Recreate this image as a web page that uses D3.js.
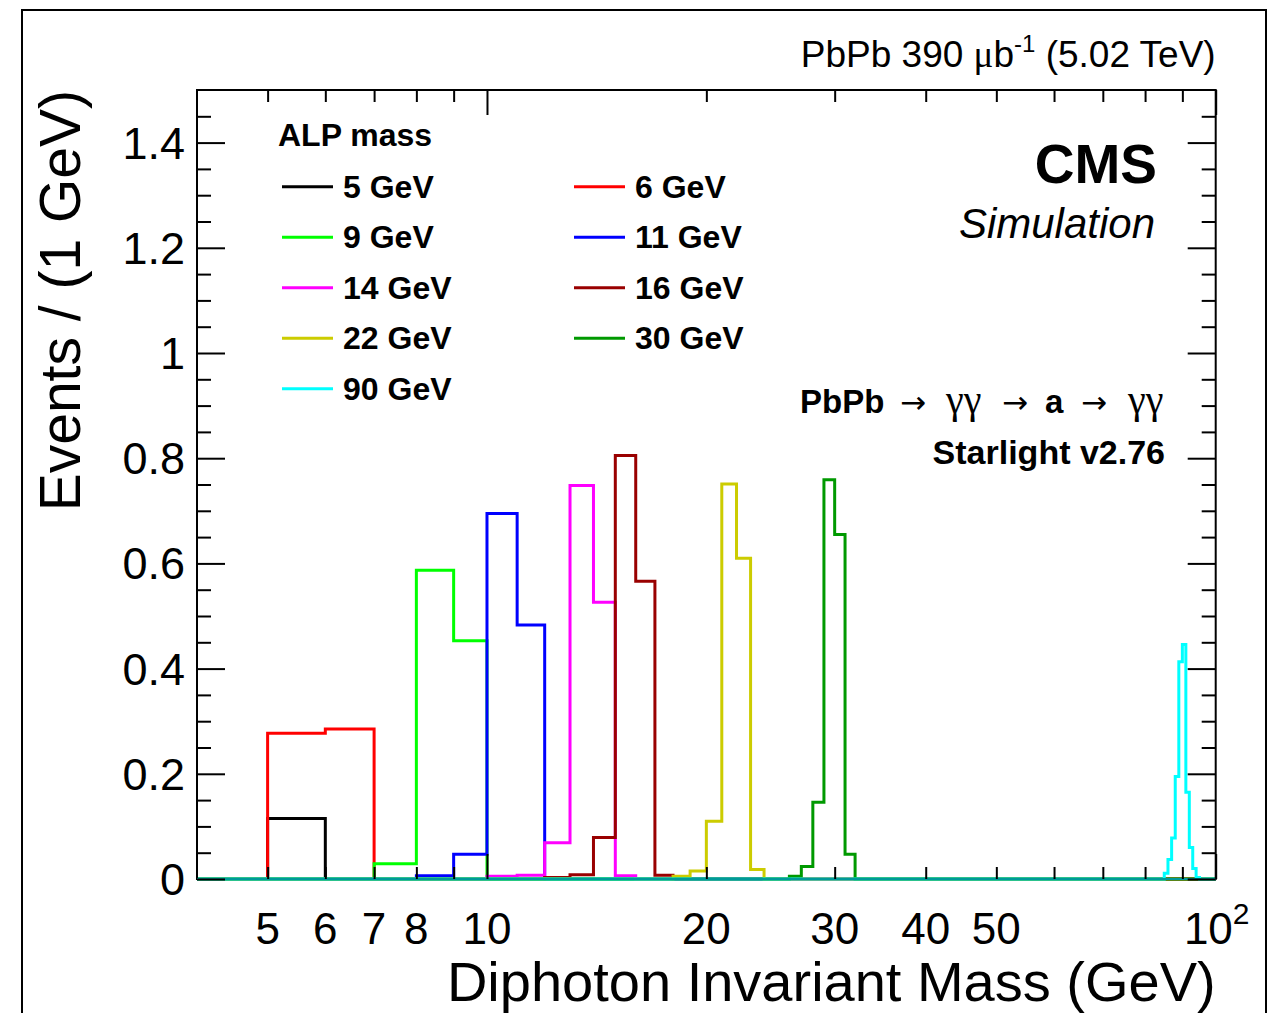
<!DOCTYPE html>
<html>
<head>
<meta charset="utf-8">
<script src="https://cdn.jsdelivr.net/npm/d3@7"></script>
<style>
  body { margin: 0; background: #fff; }
  svg { display: block; }
  text { font-family: "Liberation Sans", Arial, Helvetica, sans-serif; fill: #000; }
</style>
</head>
<body>
<svg id="chart" width="1283" height="1013"></svg>
<script>
// ALP mass hypotheses, legend labels and line colours
const labels = ['5 GeV', '6 GeV', '9 GeV', '11 GeV', '14 GeV', '16 GeV', '22 GeV', '30 GeV', '90 GeV']
const colors = ['#000000', '#ff0000', '#00ff00', '#0000ff', '#ff00ff', '#990000', '#cccc00', '#009900', '#00ffff']

// first filled bin (lower edge, GeV) of each histogram, 1 GeV bins
const firstBin = [5, 5, 7, 8, 10, 12, 18, 26, 85]

// bin contents (events / 1 GeV)
const m5 = [0.115]
const m6 = [0.277, 0.285]
const m9 = [0.029, 0.587, 0.453]
const m11 = [0.006, 0.047, 0.695, 0.483]
const m14 = [0.005, 0.007, 0.069, 0.748, 0.526, 0.006]
const m16 = [0.003, 0.008, 0.079, 0.805, 0.566, 0.007]
const m22 = [0.005, 0.015, 0.110, 0.751, 0.610, 0.018]
const m30 = [0.005, 0.024, 0.146, 0.759, 0.655, 0.047]
const m90 = [0.011, 0.037, 0.078, 0.195, 0.413, 0.446, 0.165, 0.060, 0.020, 0.003]
const series = [m5, m6, m9, m11, m14, m16, m22, m30, m90]

// axis ticks
const xMajor = [10, 100]
const xMinor = [5, 6, 7, 8, 9, 20, 30, 40, 50, 60, 70, 80, 90]
const xLabels = [5, 6, 7, 8, 10, 20, 30, 40, 50]
const yMajor = [0, 0.2, 0.4, 0.6, 0.8, 1.0, 1.2, 1.4]
const yMinor = [0.05, 0.1, 0.15, 0.25, 0.3, 0.35, 0.45, 0.5, 0.55, 0.65, 0.7, 0.75,
    0.85, 0.9, 0.95, 1.05, 1.1, 1.15, 1.25, 1.3, 1.35, 1.45]

const padL = 197, padR = 1215.7, padT = 90, padB = 879
const svg = d3.select('#chart')

const x = d3.scaleLog().domain([4, 100]).range([padL, padR])
const y = d3.scaleLinear().domain([0, 1.5]).range([padB, padT])

// outer canvas frame
svg.append('rect')
    .attr('x', 22).attr('y', 10).attr('width', 1244).attr('height', 1020)
    .attr('fill', 'none').attr('stroke', '#000').attr('stroke-width', 2)

// histograms as step lines, zero outside filled bins
const line = d3.line()
    .x(d => x(d[0]))
    .y(d => y(d[1]))
    .curve(d3.curveStepAfter)

series.forEach((vals, i) => {
    const lo = firstBin[i]
    const pts = [[4, 0]]
    vals.forEach((v, k) => pts.push([lo + k, v]))
    pts.push([lo + vals.length, 0])
    pts.push([100, 0])
    svg.append('path')
        .attr('d', line(pts))
        .attr('fill', 'none')
        .attr('stroke', colors[i])
        .attr('stroke-width', 3)
})

// plot frame
svg.append('rect')
    .attr('x', padL).attr('y', padT).attr('width', padR - padL).attr('height', padB - padT)
    .attr('fill', 'none').attr('stroke', '#000').attr('stroke-width', 2)
svg.append('line')
    .attr('x1', padL).attr('x2', padR).attr('y1', padB).attr('y2', padB)
    .attr('stroke', '#00ffff').attr('stroke-width', 2).attr('opacity', 0.6)

// ticks, pointing inward on all four sides
function ticks(axis, transform) {
    const g = svg.append('g').attr('transform', transform).call(axis)
    g.select('.domain').remove()
    g.selectAll('.tick line').attr('stroke', '#000').attr('stroke-width', 2)
    g.selectAll('.tick text').remove()
}
ticks(d3.axisBottom(x).tickValues(xMajor).tickSize(-25), `translate(0,${padB})`)
ticks(d3.axisBottom(x).tickValues(xMinor).tickSize(-12), `translate(0,${padB})`)
ticks(d3.axisTop(x).tickValues(xMajor).tickSize(-25), `translate(0,${padT})`)
ticks(d3.axisTop(x).tickValues(xMinor).tickSize(-12), `translate(0,${padT})`)
ticks(d3.axisLeft(y).tickValues(yMajor).tickSize(-28), `translate(${padL},0)`)
ticks(d3.axisLeft(y).tickValues(yMinor).tickSize(-14), `translate(${padL},0)`)
ticks(d3.axisRight(y).tickValues(yMajor).tickSize(-28), `translate(${padR},0)`)
ticks(d3.axisRight(y).tickValues(yMinor).tickSize(-14), `translate(${padR},0)`)

// tick labels
svg.append('g').selectAll('text')
    .data(yMajor)
    .join('text')
    .attr('x', 185)
    .attr('y', d => y(d) + 16)
    .attr('text-anchor', 'end')
    .style('font-size', '45px')
    .text(d => d3.format('~g')(d))

svg.append('g').selectAll('text')
    .data(xLabels)
    .join('text')
    .attr('x', d => x(d))
    .attr('y', 944)
    .attr('text-anchor', 'middle')
    .style('font-size', '44px')
    .text(d => d)

const hundred = svg.append('text')
    .attr('x', x(100) + 1).attr('y', 944)
    .attr('text-anchor', 'middle')
    .style('font-size', '44px')
hundred.append('tspan').text('10')
hundred.append('tspan').attr('dy', -20).style('font-size', '30px').text('2')

// axis titles
svg.append('text')
    .attr('x', padR).attr('y', 1001)
    .attr('text-anchor', 'end')
    .style('font-size', '56px')
    .text('Diphoton Invariant Mass (GeV)')

svg.append('text')
    .attr('transform', `translate(80,${padT}) rotate(-90)`)
    .attr('text-anchor', 'end')
    .style('font-size', '57px')
    .text('Events / (1 GeV)')

// luminosity label
const lumi = svg.append('text')
    .attr('x', padR).attr('y', 67)
    .attr('text-anchor', 'end')
    .style('font-size', '37px')
lumi.append('tspan').text('PbPb 390 ')
lumi.append('tspan').style('font-family', '"Liberation Serif", serif').text('\u03bc')
lumi.append('tspan').text('b')
lumi.append('tspan').attr('dy', -15).style('font-size', '24px').text('-1')
lumi.append('tspan').attr('dy', 15).text(' (5.02 TeV)')

// CMS labels
svg.append('text')
    .attr('x', 1157).attr('y', 183)
    .attr('text-anchor', 'end')
    .style('font-size', '55px').style('font-weight', 'bold')
    .text('CMS')
svg.append('text')
    .attr('x', 1155).attr('y', 238)
    .attr('text-anchor', 'end')
    .style('font-size', '42px').style('font-style', 'italic')
    .text('Simulation')

// process line: PbPb -> gamma gamma -> a -> gamma gamma
const procY = 413
const procParts = [
    { t: 'PbPb', x: 800, kind: 'bold' },
    { t: '\u2192', x: 900, kind: 'arrow' },
    { t: '\u03b3\u03b3', x: 946, kind: 'greek' },
    { t: '\u2192', x: 1002, kind: 'arrow' },
    { t: 'a', x: 1045, kind: 'bold' },
    { t: '\u2192', x: 1081, kind: 'arrow' },
    { t: '\u03b3\u03b3', x: 1128, kind: 'greek' }
]
const procFont = { bold: null, arrow: '"DejaVu Sans", sans-serif', greek: '"Liberation Serif", "Times New Roman", serif' }
const procSize = { bold: '33px', arrow: '31px', greek: '40px' }
svg.append('g').selectAll('text')
    .data(procParts)
    .join('text')
    .attr('x', d => d.x)
    .attr('y', procY)
    .style('font-size', d => procSize[d.kind])
    .style('font-weight', d => d.kind === 'bold' ? 'bold' : 'normal')
    .style('font-family', d => procFont[d.kind])
    .text(d => d.t)

svg.append('text')
    .attr('x', 1165).attr('y', 464)
    .attr('text-anchor', 'end')
    .style('font-size', '34px').style('font-weight', 'bold')
    .text('Starlight v2.76')

// legend
svg.append('text')
    .attr('x', 278).attr('y', 146)
    .style('font-size', '32px').style('font-weight', 'bold')
    .text('ALP mass')

const legend = svg.append('g').selectAll('g')
    .data(labels)
    .join('g')
    .attr('transform', (d, i) => `translate(${i % 2 === 0 ? 282 : 574},${186.7 + Math.floor(i / 2) * 50.5})`)

legend.append('line')
    .attr('x1', 0).attr('x2', 51)
    .attr('stroke', (d, i) => colors[i])
    .attr('stroke-width', 3)

legend.append('text')
    .attr('x', 61).attr('y', 11)
    .style('font-size', '32px').style('font-weight', 'bold')
    .text(d => d)
</script>
</body>
</html>
